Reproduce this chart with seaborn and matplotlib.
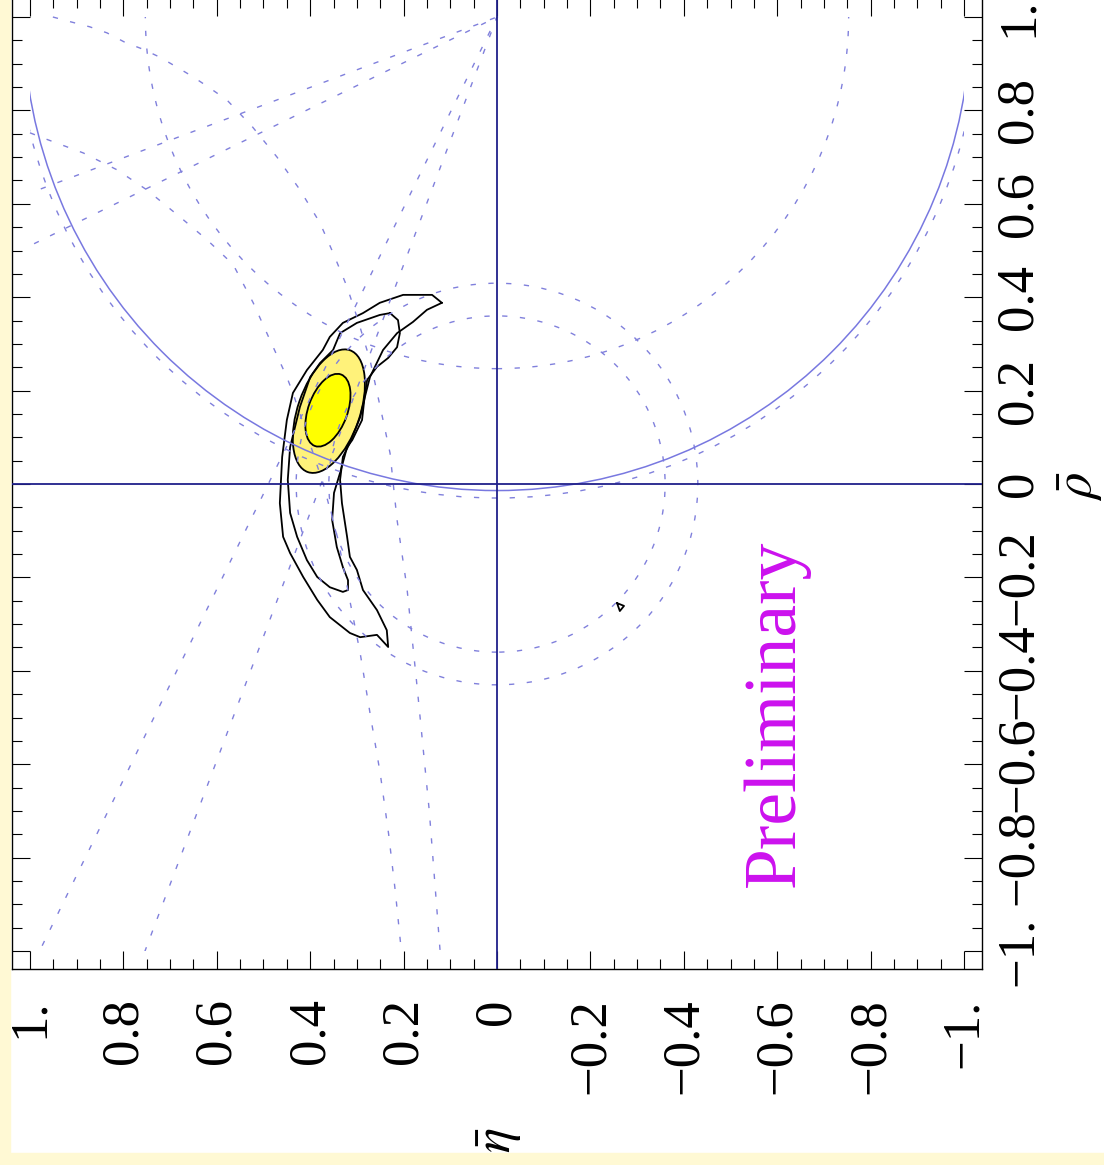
import numpy as np
import matplotlib
matplotlib.use("Agg")
import matplotlib.pyplot as plt
import seaborn as sns
from matplotlib.patches import Circle, Rectangle, Ellipse
from matplotlib.ticker import MultipleLocator

# ---------------- data (eta = horizontal, rho = vertical; picture is rotated) ----------------
eta_ticks = [-1.0, -0.8, -0.6, -0.4, -0.2, 0.0, 0.2, 0.4, 0.6, 0.8, 1.0]
eta_tick_labels = ["\u22121.", "\u22120.8", "\u22120.6", "\u22120.4", "\u22120.2", "0",
                   "0.2", "0.4", "0.6", "0.8", "1."]
rho_ticks = [-1.0, -0.8, -0.6, -0.4, -0.2, 0.0, 0.2, 0.4, 0.6, 0.8, 1.0]
rho_tick_labels = ["\u22121.", "\u22120.8", "\u22120.6", "\u22120.4", "\u22120.2", "0",
                   "0.2", "0.4", "0.6", "0.8", "1."]

# circles centred on (rho, eta) = (1, 0): Delta m_d band (dashed) and Delta m_s limit (solid)
dmd_center = (0.0, 1.0)          # (eta, rho)
dmd_radii = [0.753, 1.03]
dms_radius = 1.014
# |Vub/Vcb| circles centred on the origin
vub_center = (0.0, 0.0)
vub_radii = [0.36, 0.43]
# sin(2 beta) band: lines through (rho, eta) = (1, 0)
sin2b_bounds = [0.66, 0.79]

# epsilon_K hyperbolas (eta, rho)
epsk1_eta = [0.951, 0.914, 0.872, 0.835, 0.797, 0.758, 0.722, 0.686, 0.651, 0.615, 0.578,
             0.523, 0.471, 0.422, 0.379, 0.351, 0.321, 0.300, 0.272, 0.244, 0.229, 0.214,
             0.193, 0.171, 0.145, 0.122]
epsk1_rho = [1.000, 0.990, 0.979, 0.966, 0.946, 0.931, 0.914, 0.893, 0.872, 0.848, 0.822,
             0.764, 0.700, 0.630, 0.559, 0.495, 0.422, 0.358, 0.266, 0.137, 0.066, -0.077,
             -0.221, -0.435, -0.700, -0.998]
epsk2_eta = [1.000, 0.972, 0.886, 0.814, 0.750, 0.679, 0.621, 0.565, 0.522, 0.486, 0.450,
             0.437, 0.405, 0.372, 0.340, 0.315, 0.293, 0.272, 0.250, 0.232, 0.218, 0.205]
epsk2_rho = [0.752, 0.741, 0.709, 0.673, 0.630, 0.572, 0.523, 0.470, 0.388, 0.308, 0.229,
             0.195, 0.100, 0.000, -0.120, -0.250, -0.362, -0.490, -0.620, -0.750, -0.870,
             -0.998]

# fit contours (eta, rho)
outer_eta = [0.118, 0.139, 0.201, 0.251, 0.287, 0.330, 0.358, 0.373, 0.407, 0.437, 0.450,
             0.460, 0.465, 0.458, 0.443, 0.415, 0.385, 0.358, 0.315, 0.293, 0.257, 0.233,
             0.236, 0.257, 0.287, 0.300, 0.315, 0.321, 0.332, 0.336, 0.330, 0.315, 0.293,
             0.283, 0.272, 0.244, 0.214, 0.180, 0.150, 0.118]
outer_rho = [0.388, 0.405, 0.405, 0.388, 0.366, 0.345, 0.315, 0.287, 0.244, 0.195, 0.137,
             0.058, -0.041, -0.113, -0.148, -0.199, -0.248, -0.285, -0.319, -0.328, -0.323,
             -0.349, -0.313, -0.270, -0.227, -0.184, -0.156, -0.113, -0.041, 0.009, 0.058,
             0.088, 0.143, 0.186, 0.229, 0.287, 0.323, 0.347, 0.373, 0.388]
inner_eta = [0.229, 0.212, 0.208, 0.214, 0.233, 0.257, 0.278, 0.283, 0.289, 0.310, 0.321,
             0.336, 0.349, 0.353, 0.343, 0.330, 0.319, 0.319, 0.330, 0.358, 0.385, 0.407,
             0.428, 0.443, 0.448, 0.443, 0.422, 0.400, 0.379, 0.351, 0.336, 0.300, 0.251,
             0.229]
inner_rho = [0.366, 0.351, 0.323, 0.293, 0.270, 0.251, 0.223, 0.191, 0.137, 0.094, 0.079,
             0.024, -0.019, -0.077, -0.135, -0.178, -0.206, -0.227, -0.231, -0.221, -0.199,
             -0.163, -0.113, -0.062, 0.009, 0.079, 0.165, 0.229, 0.259, 0.287, 0.323, 0.345,
             0.362, 0.366]
# combined-fit regions: (centre eta, centre rho, full length, full width, tilt in degrees)
region95 = (0.360, 0.156, 0.276, 0.133, 109.0)
region68 = (0.362, 0.158, 0.163, 0.084, 110.0)
blob_eta = [-0.257, -0.272, -0.263, -0.257]
blob_rho = [-0.255, -0.261, -0.272, -0.255]

label_text = "Preliminary"
label_pos = (-0.597, -0.490)     # (eta, rho)

# ---------------- style ----------------
sns.set_style("ticks")
plt.rcParams["font.family"] = ["Liberation Serif", "DejaVu Serif"]
plt.rcParams["mathtext.fontset"] = "stix"

DASH_COL = "#8080dc"
SOLID_COL = "#7878e0"
AXIS_COL = "#20208a"
DASH = (0, (3.8, 9.0))
YEL_BORDER = "#fff9d4"

W, H = 1104, 1165
fig = plt.figure(figsize=(W / 100, H / 100), dpi=100)
fig.patch.set_facecolor("white")
ax = fig.add_axes([12 / W, (H - 969) / H, 970 / W, 971 / H])
ax.set_facecolor("white")
ax.set_xlim(1.0385, -1.0385)
ax.set_ylim(-1.0385, 1.0407)

clip_box = Rectangle((-1, -1), 2, 2, transform=ax.transData, fill=False, visible=False)
ax.add_patch(clip_box)

# filled credibility regions
for (ce, cr, w, h, ang), fc in [(region95, "#fff27a"), (region68, "#ffff00")]:
    ax.add_patch(Ellipse((ce, cr), w, h, angle=ang, fc=fc, ec="black", lw=1.3, zorder=1.5))

# contour lines
for ce, cr in [(outer_eta, outer_rho), (inner_eta, inner_rho), (blob_eta, blob_rho)]:
    sns.lineplot(x=ce, y=cr, sort=False, estimator=None, color="black", lw=1.3, ax=ax, zorder=2)

# circles
for r in dmd_radii:
    c = Circle(dmd_center, r, fill=False, ec=DASH_COL, lw=1.0, ls=DASH, zorder=3)
    ax.add_patch(c)
    c.set_clip_path(clip_box)
for r in vub_radii:
    c = Circle(vub_center, r, fill=False, ec=DASH_COL, lw=1.0, ls=DASH, zorder=3)
    ax.add_patch(c)
    c.set_clip_path(clip_box)
c = Circle(dmd_center, dms_radius, fill=False, ec=SOLID_COL, lw=1.1, zorder=3)
ax.add_patch(c)
c.set_clip_path(clip_box)

# sin 2 beta lines (both solutions beta and 90-beta)
for s in sin2b_bounds:
    beta = 0.5 * np.arcsin(s)
    for b in (beta, np.pi / 2 - beta):
        ln = ax.axline(dmd_center, slope=-1.0 / np.tan(b), color=DASH_COL, lw=1.0, ls=DASH, zorder=3)
        ln.set_clip_path(clip_box)

# epsilon_K
for ex, ey in [(epsk1_eta, epsk1_rho), (epsk2_eta, epsk2_rho)]:
    sns.lineplot(x=ex, y=ey, sort=False, estimator=None, color=DASH_COL, lw=1.0, ax=ax, zorder=3)
    ax.lines[-1].set_linestyle(DASH)

# axes through origin
ax.axhline(0, color=AXIS_COL, lw=1.3, zorder=3.5)
ax.axvline(0, color=AXIS_COL, lw=1.3, zorder=3.5)

# Preliminary label
ax.text(label_pos[0], label_pos[1], label_text, rotation=90, ha="center", va="center",
        color="#cc11ee", fontsize=53, zorder=5)

# ticks
ax.set_xticks(eta_ticks)
ax.set_xticklabels(eta_tick_labels)
ax.set_yticks(rho_ticks)
ax.set_yticklabels(rho_tick_labels)
ax.xaxis.set_minor_locator(MultipleLocator(0.05))
ax.yaxis.set_minor_locator(MultipleLocator(0.05))
ax.tick_params(which="both", direction="in", top=True, bottom=True, left=True, right=True,
               labelleft=False, labelright=True, labeltop=False, labelbottom=True,
               color="black", labelcolor="black", width=0.8)
ax.tick_params(which="major", length=13.3)
ax.tick_params(which="minor", length=7.5)
ax.tick_params(axis="x", labelrotation=90, pad=21.0, labelsize=38)
ax.tick_params(axis="y", labelrotation=90, pad=9.0, labelsize=38)
for t in ax.yaxis.get_major_ticks():
    t.label2.set_va("center")
    t.label2.set_ha("left")
for sp in ax.spines.values():
    sp.set_linewidth(1.0)
    sp.set_color("black")

# axis symbols
fig.text(1081 / W, 1 - 486 / H, r"$\bar{\rho}$", rotation=90, ha="center", va="center",
         fontsize=38, color="black")
fig.text(500 / W, 1 - 1127 / H, r"$\bar{\eta}$", rotation=90, ha="center", va="top",
         fontsize=38, color="black")

# cream border strips
fig.add_artist(Rectangle((0, 0), 9.5 / W, 1, transform=fig.transFigure, color=YEL_BORDER, zorder=100))
fig.add_artist(Rectangle((0, 0), 1, 12 / H, transform=fig.transFigure, color=YEL_BORDER, zorder=100))

fig.savefig("out.png", dpi=100, facecolor=fig.get_facecolor())
